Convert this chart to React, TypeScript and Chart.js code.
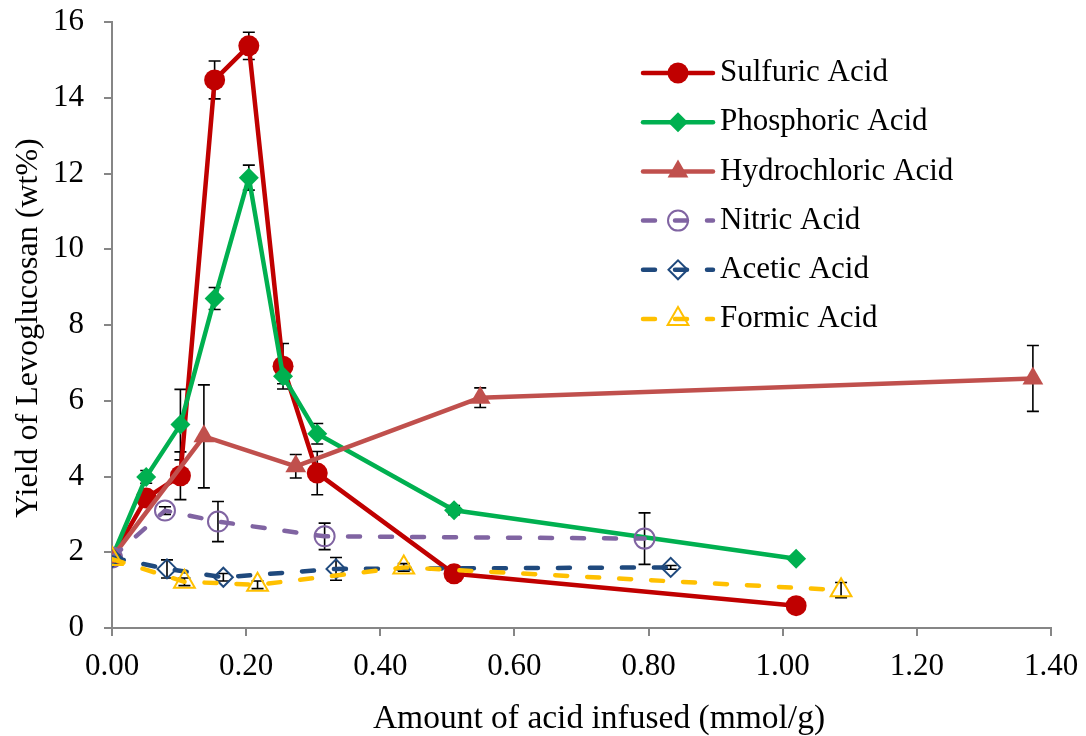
import React, { useEffect, useRef } from 'react';
import { Chart, registerables } from 'chart.js';

Chart.register(...registerables);

const FONT = '"Liberation Serif", "Times New Roman", Times, serif';

// ---- Data ----
const sulfuricX = [0, 0.051, 0.102, 0.153, 0.204, 0.255, 0.306, 0.51, 1.02];
const sulfuricY = [1.86, 3.43, 4.02, 14.47, 15.37, 6.91, 4.09, 1.43, 0.59];
const sulfuricErr = [0, 0.1, 0.63, 0.5, 0.36, 0.6, 0.57, 0.1, 0.05];

const phosphoricX = [0, 0.051, 0.102, 0.153, 0.204, 0.255, 0.306, 0.51, 1.02];
const phosphoricY = [1.86, 3.99, 5.37, 8.7, 11.89, 6.65, 5.13, 3.11, 1.83];
const phosphoricErr = [0, 0.17, 0.93, 0.29, 0.33, 0.2, 0.27, 0.12, 0.05];

const hydrochloricX = [0, 0.137, 0.274, 0.549, 1.373];
const hydrochloricY = [1.86, 5.06, 4.27, 6.08, 6.59];
const hydrochloricErr = [0, 1.36, 0.31, 0.26, 0.87];

const nitricX = [0, 0.079, 0.158, 0.317, 0.794];
const nitricY = [1.86, 3.1, 2.81, 2.42, 2.36];
const nitricErr = [0, 0.1, 0.53, 0.35, 0.68];

const aceticX = [0, 0.082, 0.166, 0.334, 0.833];
const aceticY = [1.86, 1.56, 1.34, 1.56, 1.6];
const aceticErr = [0, 0.24, 0.1, 0.3, 0.05];

const formicX = [0, 0.108, 0.217, 0.435, 1.087];
const formicY = [1.82, 1.22, 1.14, 1.6, 1.0];
const formicErr = [0, 0.1, 0.1, 0.1, 0.2];

const seriesLabels = [
  'Sulfuric Acid',
  'Phosphoric Acid',
  'Hydrochloric Acid',
  'Nitric Acid',
  'Acetic Acid',
  'Formic Acid',
];

const xAxisTitle = 'Amount of acid infused (mmol/g)';
const yAxisTitle = 'Yield of Levoglucosan (wt%)';

// ---- Styles ----
type Style = {
  color: string;
  point: 'circle' | 'rectRot' | 'triangle';
  radius: number;
  filled: boolean;
  dashed: boolean;
};

const styles: Style[] = [
  { color: '#C00000', point: 'circle', radius: 10.5, filled: true, dashed: false },
  { color: '#00B050', point: 'rectRot', radius: 10, filled: true, dashed: false },
  { color: '#C0504D', point: 'triangle', radius: 12, filled: true, dashed: false },
  { color: '#8064A2', point: 'circle', radius: 10, filled: false, dashed: true },
  { color: '#1F497D', point: 'rectRot', radius: 9.5, filled: false, dashed: true },
  { color: '#FFC000', point: 'triangle', radius: 12, filled: false, dashed: true },
];

const xs = [sulfuricX, phosphoricX, hydrochloricX, nitricX, aceticX, formicX];
const ys = [sulfuricY, phosphoricY, hydrochloricY, nitricY, aceticY, formicY];
const errs = [sulfuricErr, phosphoricErr, hydrochloricErr, nitricErr, aceticErr, formicErr];

const DASH = [12, 20];
const LINE_W = 4.5;

function drawMarker(
  ctx: CanvasRenderingContext2D,
  s: Style,
  x: number,
  y: number
) {
  const r = s.radius;
  ctx.save();
  ctx.setLineDash([]);
  ctx.beginPath();
  if (s.point === 'circle') {
    ctx.arc(x, y, r, 0, Math.PI * 2);
  } else if (s.point === 'rectRot') {
    ctx.moveTo(x - r, y);
    ctx.lineTo(x, y - r);
    ctx.lineTo(x + r, y);
    ctx.lineTo(x, y + r);
    ctx.closePath();
  } else {
    ctx.moveTo(x, y - r);
    ctx.lineTo(x + 0.866 * r, y + 0.5 * r);
    ctx.lineTo(x - 0.866 * r, y + 0.5 * r);
    ctx.closePath();
  }
  if (s.filled) {
    ctx.fillStyle = s.color;
    ctx.fill();
  } else {
    ctx.strokeStyle = s.color;
    ctx.lineWidth = 2;
    ctx.stroke();
  }
  ctx.restore();
}

const errorBarPlugin = {
  id: 'errorBars',
  beforeDatasetsDraw(chart: any) {
    const ctx: CanvasRenderingContext2D = chart.ctx;
    const yScale = chart.scales.y;
    ctx.save();
    ctx.strokeStyle = '#000';
    ctx.lineWidth = 1.6;
    ctx.setLineDash([]);
    chart.data.datasets.forEach((ds: any, di: number) => {
      const meta = chart.getDatasetMeta(di);
      const e = errs[di];
      meta.data.forEach((pt: any, i: number) => {
        if (!e[i]) return;
        const v = ys[di][i];
        const top = yScale.getPixelForValue(v + e[i]);
        const bot = yScale.getPixelForValue(v - e[i]);
        const x = pt.x;
        ctx.beginPath();
        ctx.moveTo(x, top);
        ctx.lineTo(x, bot);
        ctx.moveTo(x - 6, top);
        ctx.lineTo(x + 6, top);
        ctx.moveTo(x - 6, bot);
        ctx.lineTo(x + 6, bot);
        ctx.stroke();
      });
    });
    ctx.restore();
  },
};

const legendPlugin = {
  id: 'customLegend',
  afterDraw(chart: any) {
    const ctx: CanvasRenderingContext2D = chart.ctx;
    const x0 = 643;
    const x1 = 713;
    const xm = 678;
    const tx = 720;
    const y0 = 73;
    const step = 49.2;
    ctx.save();
    seriesLabels.forEach((label, i) => {
      const s = styles[i];
      const y = y0 + step * i;
      ctx.beginPath();
      ctx.strokeStyle = s.color;
      ctx.lineWidth = LINE_W;
      ctx.setLineDash(s.dashed ? DASH : []);
      ctx.lineCap = 'round';
      ctx.moveTo(x0, y);
      ctx.lineTo(x1, y);
      ctx.stroke();
      drawMarker(ctx, s, xm, y);
      ctx.setLineDash([]);
      ctx.fillStyle = '#000';
      ctx.font = `31px ${FONT}`;
      ctx.textBaseline = 'middle';
      ctx.textAlign = 'left';
      ctx.fillText(label, tx, y);
    });

    // axis titles
    ctx.fillStyle = '#000';
    ctx.textAlign = 'center';
    ctx.textBaseline = 'alphabetic';
    ctx.font = `33.5px ${FONT}`;
    ctx.fillText(xAxisTitle, 599, 728);
    ctx.save();
    ctx.translate(37, 328);
    ctx.rotate(-Math.PI / 2);
    ctx.font = `32px ${FONT}`;
    ctx.fillText(yAxisTitle, 0, 0);
    ctx.restore();
    ctx.restore();
  },
};

export default function App() {
  const ref = useRef<HTMLCanvasElement | null>(null);

  useEffect(() => {
    document.body.style.margin = '0';
    if (!ref.current) return;
    const datasets = seriesLabels.map((label, i) => {
      const s = styles[i];
      return {
        label,
        data: xs[i].map((x, j) => ({ x, y: ys[i][j] })),
        borderColor: s.color,
        backgroundColor: s.color,
        borderWidth: LINE_W,
        borderDash: s.dashed ? DASH : [],
        borderCapStyle: s.dashed ? 'round' : 'butt',
        borderJoinStyle: 'round',
        pointStyle: s.point,
        pointRadius: s.radius,
        pointHoverRadius: s.radius,
        pointBackgroundColor: s.filled ? s.color : 'rgba(0,0,0,0)',
        pointBorderColor: s.color,
        pointBorderWidth: s.filled ? 0 : 2,
        tension: 0,
        fill: false,
        order: 6 - i,
      };
    });

    const chart = new Chart(ref.current, {
      type: 'line',
      data: { datasets } as any,
      plugins: [errorBarPlugin, legendPlugin],
      options: {
        animation: false,
        responsive: false,
        maintainAspectRatio: false,
        layout: { padding: { top: 22, right: 35, left: 0, bottom: 0 } },
        plugins: {
          legend: { display: false },
          tooltip: { enabled: false },
        },
        scales: {
          x: {
            type: 'linear',
            min: 0,
            max: 1.4,
            ticks: {
              stepSize: 0.2,
              color: '#000',
              font: { family: FONT, size: 31 },
              padding: 12,
              callback: (v: any) => Number(v).toFixed(2),
            },
            grid: {
              display: true,
              drawOnChartArea: false,
              drawTicks: true,
              tickLength: 8,
              color: '#868686',
              lineWidth: 2,
            },
            border: { display: true, color: '#868686', width: 2 },
            title: { display: false },
            afterFit: (s: any) => {
              s.height = 108;
              s.paddingLeft = 0;
              s.paddingRight = 0;
            },
          },
          y: {
            type: 'linear',
            min: 0,
            max: 16,
            ticks: {
              stepSize: 2,
              color: '#000',
              font: { family: FONT, size: 31 },
              padding: 20,
            },
            grid: {
              display: true,
              drawOnChartArea: false,
              drawTicks: true,
              tickLength: 8,
              color: '#868686',
              lineWidth: 2,
            },
            border: { display: true, color: '#868686', width: 2 },
            title: { display: false },
            afterFit: (s: any) => {
              s.width = 112;
              s.paddingTop = 0;
              s.paddingBottom = 0;
            },
          },
        },
      } as any,
    });
    return () => chart.destroy();
  }, []);

  return (
    <div style={{ width: 1086, height: 736 }}>
      <canvas ref={ref} width={1086} height={736} style={{ display: 'block' }} />
    </div>
  );
}
